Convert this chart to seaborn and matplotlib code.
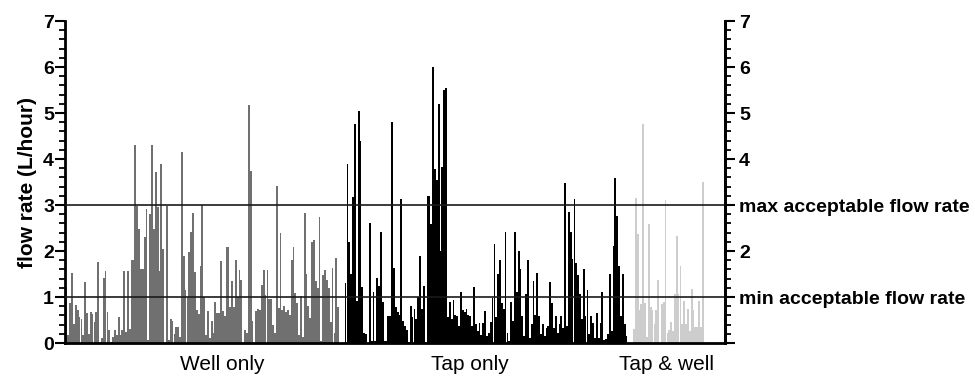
import numpy as np
import pandas as pd
import matplotlib
matplotlib.use("Agg")
import matplotlib.pyplot as plt
from matplotlib.ticker import MultipleLocator
import seaborn as sns

# flow rate per household (L/hour) left to right
well_only = [1.23, 0.17, 0.87, 1.52, 0.42, 0.82, 0.72, 0.57, 0.53, 0.17, 1.33, 0.65, 0.2, 0.67, 0.64,
             0.46, 0.67, 1.76, 0.02, 0.12, 1.42, 1.57, 0.67, 0.29, 0.02, 0.13, 0.28, 0.17, 0.57, 0.17,
             0.28, 1.57, 0.24, 1.57, 0.31, 1.8, 1.8, 4.3, 2.97, 2.49, 1.6, 1.6, 2.3, 2.92, 0.06,
             2.81, 4.3, 2.49, 3.72, 2.96, 1.57, 3.9, 2.05, 0.0, 2.97, 0.06, 0.53, 0.49, 0.2, 0.36,
             0.35, 0.13, 4.15, 1.9, 1.16, 1.0, 1.98, 2.41, 2.83, 1.54, 0.71, 0.64, 1.67,
             3.0, 1.0, 0.18, 0.69, 0.1, 0.49, 0.22, 0.9, 0.65, 0.65, 1.78, 0.69, 0.58, 2.09, 2.09,
             0.78, 1.34, 0.78, 1.81, 1.01, 1.58, 1.38, 0.0, 0.29, 0.22, 5.18, 3.73, 0.47, 0.0, 0.69,
             0.74, 0.72, 1.27, 1.59, 1.05, 1.58, 0.96, 0.96, 0.4, 0.22, 3.42, 0.76, 2.39, 0.72, 0.8,
             0.67, 0.72, 0.62, 1.8, 2.09, 1.09, 0.87, 0.18, 1.03, 0.14, 2.83, 1.51, 0.8, 0.54, 2.19,
             2.23, 1.34, 1.2, 2.74, 0.04, 1.49, 1.58, 1.38, 1.2, 0.45, 1.63, 0.22, 1.85, 0.78]

tap_only = [1.3, 3.89, 2.2, 1.5, 3.18, 4.76, 0.92, 5.05, 4.4, 1.21, 0.23, 0.2, 0.0, 2.61, 0.05,
            1.1, 0.05, 1.41, 1.25, 2.41, 0.9, 0.05, 0.05, 0.59, 0.59, 4.8, 1.64, 0.78, 0.67, 0.61,
            3.13, 0.49, 0.38, 0.29, 0.03, 0.8, 0.56, 0.74, 0.52, 1.01, 1.9, 0.74, 1.25, 0.03, 3.2,
            3.2, 2.59, 5.99, 3.78, 3.55, 5.2, 2.01, 3.82, 5.49, 5.54, 0.56, 0.9, 0.52, 0.94, 0.61,
            0.59, 0.38, 1.1, 0.72, 0.68, 0.75, 0.61, 0.59, 0.38, 1.21, 0.41, 0.27,
            0.43, 0.17, 0.43, 0.7, 0.16, 0.23, 0.46, 0.99, 2.15, 0.56, 1.5, 1.81, 0.88, 0.75, 2.41,
            0.23, 0.05, 0.9, 0.49, 2.41, 1.1, 2.0, 1.61, 0.59, 0.16, 1.07, 1.81, 0.12, 0.41, 1.36,
            0.61, 1.52, 0.59, 0.2, 0.41, 0.16, 0.32, 0.38, 1.32, 0.88, 0.32, 0.59, 0.22, 0.41, 0.59,
            0.32, 3.49, 0.38, 2.84, 2.41, 1.83, 3.14, 1.75, 1.48, 1.07, 0.52, 1.61, 0.58, 1.16, 0.2,
            0.58, 0.43, 0.12, 0.65, 0.12, 0.43, 1.1, 0.07, 0.09, 0.2, 1.5, 0.27, 2.12, 3.58, 2.77,
            1.68, 0.58, 1.5, 0.41, 0.16]

tap_and_well = [0.31, 3.16, 2.38, 0.71, 0.86, 4.77, 0.87, 0.13, 2.58, 0.78, 0.72, 0.42, 0.71, 1.38,
                0.02, 0.86, 0.89, 3.12, 0.22, 0.28, 0.46, 0.26, 1.07, 2.32, 1.07, 1.67, 0.42, 0.91,
                0.42, 0.75, 0.26, 1.18, 0.71, 0.36, 0.36, 0.91, 0.35, 3.5]

groups = ["Well only", "Tap only", "Tap & well"]
colors = {"Well only": "#707070", "Tap only": "#000000", "Tap & well": "#cdcdcd"}
min_rate, max_rate = 1, 3
right_labels = ["", "min acceptable flow rate", "2", "max acceptable flow rate", "4", "5", "6", "7"]

# build long table, with a small gap between groups
gap = 3
rows = []
start = 0
for name, vals in zip(groups, [well_only, tap_only, tap_and_well]):
    for i, v in enumerate(vals):
        rows.append({"pos": start + i, "rate": v, "group": name})
    start += len(vals) + gap
df = pd.DataFrame(rows)

sns.set_style("ticks")
plt.rcParams["font.family"] = ["Liberation Sans", "DejaVu Sans"]
plt.rcParams["text.color"] = "black"
plt.rcParams["ytick.color"] = "black"
plt.rcParams["axes.labelcolor"] = "black"
plt.rcParams["axes.edgecolor"] = "black"

fig = plt.figure(figsize=(9.75, 3.89), dpi=100)
ax = fig.add_axes([0.0667, 0.118, 0.677, 0.828])

sns.barplot(data=df, x="pos", y="rate", hue="group", palette=colors, native_scale=True,
            dodge=False, width=0.97, legend=False, linewidth=0, ax=ax)

ax.axhline(max_rate, color="#1a1a1a", lw=1.2, zorder=5)
ax.axhline(min_rate, color="#1a1a1a", lw=1.2, zorder=5)

ax.set_xlim(-0.8, start - gap + 11)
ax.set_ylim(0, 7)
ax.set_xticks([])
ax.set_xlabel("")
ax.set_ylabel("flow rate (L/hour)", fontsize=15, fontweight="bold", labelpad=4)
ax.set_yticks(range(8))
ax.yaxis.set_minor_locator(MultipleLocator(0.2))
ax.tick_params(axis="y", which="major", length=7, width=1.5, labelsize=14, pad=1)
ax.tick_params(axis="y", which="minor", length=4, width=1.3)
for lab in ax.get_yticklabels():
    lab.set_fontweight("bold")

for s in ["left", "right", "bottom"]:
    ax.spines[s].set_linewidth(2)
ax.spines["top"].set_visible(False)

ax2 = ax.twinx()
ax2.set_ylim(0, 7)
ax2.set_yticks(range(8))
ax2.set_yticklabels(right_labels, fontsize=14, fontweight="bold")
ax2.yaxis.set_minor_locator(MultipleLocator(0.2))
ax2.tick_params(axis="y", which="major", length=7, width=1.5, pad=3)
ax2.tick_params(axis="y", which="minor", length=4, width=1.3)
for s in ["top", "left", "bottom"]:
    ax2.spines[s].set_visible(False)
ax2.spines["right"].set_linewidth(2)

# group names under the bars
label_x = [0.238, 0.614, 0.911]
for name, lx in zip(groups, label_x):
    ax.text(lx, -0.065, name, transform=ax.transAxes, ha="center", va="center", fontsize=15)

fig.savefig("out.png", dpi=100)
